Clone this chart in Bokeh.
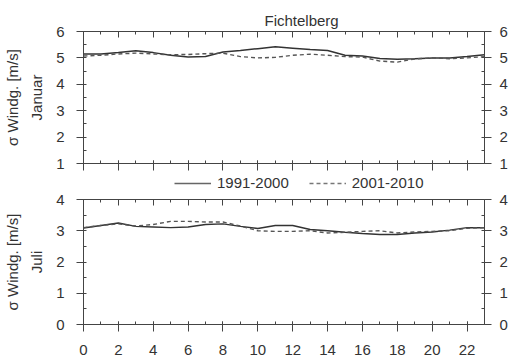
from bokeh.plotting import figure
from bokeh.models import (LinearAxis, SingleIntervalTicker, FixedTicker, Range1d,
                          Legend, LegendItem, Title, CustomLabelingPolicy)
from bokeh.layouts import column
from bokeh.embed import file_html
from bokeh.resources import INLINE

hours = list(range(24))
jan_1991_2000 = [5.15, 5.15, 5.2, 5.27, 5.2, 5.1, 5.03, 5.05, 5.22, 5.28, 5.35, 5.42,
                 5.37, 5.32, 5.28, 5.1, 5.07, 4.98, 4.95, 4.97, 5.0, 5.0, 5.05, 5.12]
jan_2001_2010 = [5.07, 5.1, 5.15, 5.18, 5.15, 5.12, 5.13, 5.16, 5.18, 5.05, 5.0, 5.02,
                 5.1, 5.14, 5.1, 5.05, 5.03, 4.88, 4.84, 4.96, 5.0, 4.97, 5.0, 5.05]
jul_1991_2000 = [3.09, 3.17, 3.25, 3.14, 3.12, 3.1, 3.12, 3.2, 3.22, 3.14, 3.07, 3.17,
                 3.17, 3.04, 3.0, 2.95, 2.91, 2.88, 2.88, 2.93, 2.96, 3.02, 3.1, 3.1]
jul_2001_2010 = [3.1, 3.17, 3.22, 3.15, 3.2, 3.3, 3.3, 3.28, 3.28, 3.15, 3.0, 2.98,
                 2.98, 3.0, 2.93, 2.95, 2.98, 3.0, 2.93, 2.96, 2.98, 3.0, 3.08, 3.1]
series_labels = ["1991-2000", "2001-2010"]
title_text = "Fichtelberg"
ylabel_main = "σ Windg. [m/s]"
month_labels = ["Januar", "Juli"]

FONT = "Liberation Sans"
TXT = "#333333"
AX = "#444444"
FS = "15px"
C1 = "#333333"
C2 = "#555555"
DASH = "4 3"

NO_LABELS = CustomLabelingPolicy(code="""
    const all = Array.from(indices)
    for (const i of all) indices.unset(i)
    return indices
""")


def style_axis(ax, labels=True, tick_in=0, tick_out=7, minor_in=3):
    ax.axis_line_color = AX
    ax.major_tick_line_color = AX
    ax.minor_tick_line_color = AX
    ax.major_tick_in = tick_in
    ax.major_tick_out = tick_out
    ax.minor_tick_in = minor_in
    ax.minor_tick_out = 0
    ax.major_label_text_font = FONT
    ax.major_label_text_color = TXT
    if labels:
        ax.major_label_text_font_size = FS
    else:
        ax.major_label_policy = NO_LABELS
        ax.major_label_text_font_size = "0px"
        ax.major_label_standoff = 0


def make_panel(y0, y1, s1, s2, month, height, top, bottom, show_x_labels):
    p = figure(width=514, height=height, output_backend="svg", toolbar_location=None,
               x_range=Range1d(0, 23), y_range=Range1d(y0, y1),
               min_border_left=82, min_border_right=30,
               min_border_top=top, min_border_bottom=bottom,
               x_axis_location=None, y_axis_location=None, title=None)
    p.outline_line_color = None
    p.xgrid.visible = False
    p.ygrid.visible = False

    xt = SingleIntervalTicker(interval=2, num_minor_ticks=2)
    yt = SingleIntervalTicker(interval=1, num_minor_ticks=2)

    bx = LinearAxis(ticker=xt)
    style_axis(bx, labels=show_x_labels, tick_in=3, tick_out=7)
    if show_x_labels:
        bx.major_label_standoff = 13
    p.add_layout(bx, "below")

    tx = LinearAxis(ticker=xt)
    style_axis(tx, labels=False, tick_in=6, tick_out=0)
    p.add_layout(tx, "above")

    ly = LinearAxis(ticker=yt, axis_label=month)
    style_axis(ly, labels=True, tick_in=0, tick_out=7)
    ly.major_label_standoff = 12
    ly.axis_label_text_font = FONT
    ly.axis_label_text_font_size = FS
    ly.axis_label_text_font_style = "normal"
    ly.axis_label_text_color = TXT
    ly.axis_label_standoff = 8
    p.add_layout(ly, "left")

    oy = LinearAxis(ticker=FixedTicker(ticks=[]), axis_label=ylabel_main)
    oy.axis_line_color = None
    oy.major_tick_out = 0
    oy.major_tick_in = 0
    oy.minor_tick_out = 0
    oy.minor_tick_in = 0
    oy.major_label_text_font_size = "0px"
    oy.major_label_standoff = 0
    oy.axis_label_text_font = FONT
    oy.axis_label_text_font_size = FS
    oy.axis_label_text_font_style = "normal"
    oy.axis_label_text_color = TXT
    oy.axis_label_standoff = 5
    p.add_layout(oy, "left")

    ry = LinearAxis(ticker=yt)
    style_axis(ry, labels=True, tick_in=0, tick_out=7)
    ry.major_label_standoff = 8
    p.add_layout(ry, "right")

    p.line(hours, s1, line_color=C1, line_width=1.5)
    p.line(hours, s2, line_color=C2, line_width=1.4, line_dash=DASH)
    return p


p1 = make_panel(1, 6, jan_1991_2000, jan_2001_2010, month_labels[0],
                height=171, top=31, bottom=8, show_x_labels=False)
p2 = make_panel(0, 4, jul_1991_2000, jul_2001_2010, month_labels[1],
                height=170, top=8, bottom=37, show_x_labels=True)

title = Title(text=title_text, align="left", offset=181, standoff=6,
              text_font=FONT, text_font_size=FS, text_font_style="normal",
              text_color=TXT)
p1.add_layout(title, "above")

# legend strip between the two panels (renderers hidden, only legend shown)
pl = figure(width=514, height=20, output_backend="svg", toolbar_location=None,
            x_range=Range1d(0, 23), y_range=Range1d(0, 4),
            min_border_left=82, min_border_right=30, min_border_top=0,
            min_border_bottom=0, x_axis_location=None, y_axis_location=None,
            title=None)
pl.outline_line_color = None
pl.xgrid.visible = False
pl.ygrid.visible = False
k1 = pl.line(hours, jul_1991_2000, line_color="#666666", line_width=1.4, visible=False)
k2 = pl.line(hours, jul_2001_2010, line_color="#777777", line_width=1.4, line_dash=DASH,
             visible=False)
legend = Legend(items=[LegendItem(label=series_labels[0], renderers=[k1]),
                       LegendItem(label=series_labels[1], renderers=[k2])],
                location=(91, 0), orientation="horizontal")
legend.border_line_color = None
legend.background_fill_alpha = 0
legend.inactive_fill_alpha = 0
legend.padding = 0
legend.margin = 0
legend.glyph_width = 37
legend.glyph_height = 14
legend.label_standoff = 6
legend.spacing = 20
legend.label_text_font = FONT
legend.label_text_font_size = FS
legend.label_text_color = TXT
pl.add_layout(legend)

layout = column(p1, pl, p2, spacing=0)
open("out.html", "w").write(file_html(layout, INLINE))
